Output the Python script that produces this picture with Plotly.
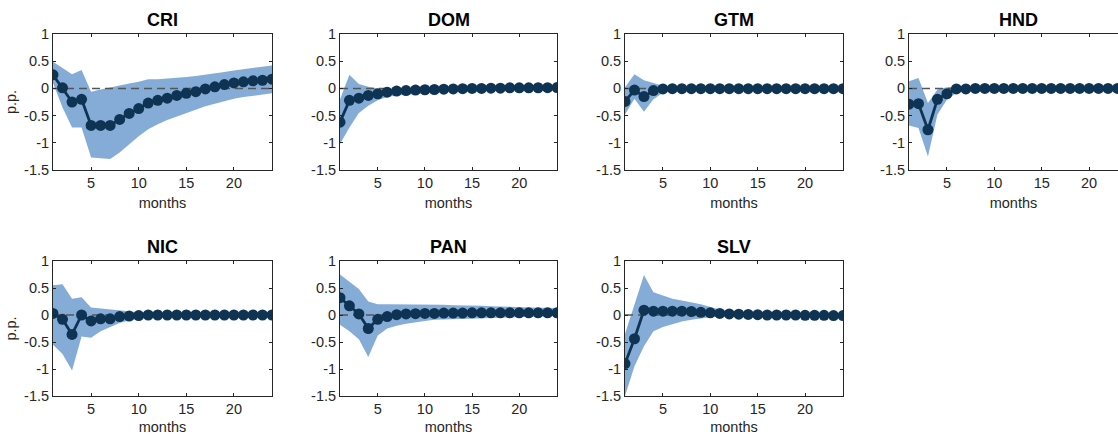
import plotly.graph_objects as go

months = list(range(1, 25))

countries = ["CRI", "DOM", "GTM", "HND", "NIC", "PAN", "SLV"]

cri_mean = [0.25, 0.01, -0.25, -0.2, -0.68, -0.68, -0.68, -0.57, -0.46, -0.37, -0.27, -0.22,
            -0.18, -0.13, -0.09, -0.06, -0.01, 0.03, 0.07, 0.10, 0.12, 0.14, 0.15, 0.17]
cri_up = [0.49, 0.37, 0.26, 0.34, -0.06, -0.02, 0.02, 0.05, 0.09, 0.12, 0.17, 0.17,
          0.18, 0.20, 0.21, 0.23, 0.25, 0.28, 0.30, 0.33, 0.35, 0.38, 0.40, 0.42]
cri_lo = [0.10, -0.35, -0.72, -0.72, -1.27, -1.28, -1.30, -1.18, -1.03, -0.88, -0.75, -0.66,
          -0.58, -0.51, -0.45, -0.39, -0.33, -0.28, -0.23, -0.19, -0.16, -0.13, -0.11, -0.09]

dom_mean = [-0.62, -0.22, -0.18, -0.13, -0.10, -0.07, -0.05, -0.04, -0.03, -0.025, -0.02, -0.015,
            -0.01, -0.005, 0.0, 0.0, 0.005, 0.005, 0.01, 0.01, 0.01, 0.012, 0.013, 0.015]
dom_up = [-0.20, 0.25, 0.08, 0.03, 0.0, -0.01, -0.01, -0.005, 0.0, 0.0, 0.005, 0.01,
          0.01, 0.015, 0.02, 0.02, 0.025, 0.025, 0.03, 0.03, 0.03, 0.035, 0.035, 0.04]
dom_lo = [-1.02, -0.72, -0.45, -0.32, -0.22, -0.16, -0.13, -0.11, -0.10, -0.09, -0.08, -0.07,
          -0.06, -0.05, -0.045, -0.04, -0.035, -0.03, -0.025, -0.02, -0.018, -0.015, -0.012, -0.01]

gtm_mean = [-0.24, -0.03, -0.15, -0.04, -0.01, -0.005, -0.005, -0.005, -0.005, -0.005, -0.005, -0.005,
            -0.005, -0.005, -0.005, -0.005, -0.005, -0.005, -0.005, -0.005, -0.005, -0.005, -0.005, -0.005]
gtm_up = [0.02, 0.26, 0.15, 0.10, 0.05, 0.02, 0.01, 0.005, 0.005, 0.005, 0.005, 0.005,
          0.005, 0.005, 0.005, 0.005, 0.005, 0.005, 0.005, 0.005, 0.005, 0.005, 0.005, 0.005]
gtm_lo = [-0.48, -0.19, -0.43, -0.20, -0.08, -0.04, -0.02, -0.015, -0.012, -0.01, -0.01, -0.01,
          -0.01, -0.01, -0.01, -0.01, -0.01, -0.01, -0.01, -0.01, -0.01, -0.01, -0.01, -0.01]

hnd_mean = [-0.29, -0.28, -0.76, -0.20, -0.10, -0.01, -0.01, 0.0, 0.0, 0.0, 0.0, 0.0,
            0.0, 0.0, 0.0, 0.0, 0.0, 0.0, 0.0, 0.0, 0.0, 0.0, 0.0, 0.0]
hnd_up = [0.13, 0.19, -0.27, -0.02, 0.02, 0.03, 0.02, 0.015, 0.01, 0.01, 0.01, 0.01,
          0.01, 0.01, 0.01, 0.01, 0.01, 0.01, 0.01, 0.01, 0.01, 0.01, 0.01, 0.01]
hnd_lo = [-0.68, -0.73, -1.25, -0.48, -0.21, -0.08, -0.05, -0.03, -0.02, -0.02, -0.02, -0.02,
          -0.02, -0.02, -0.02, -0.02, -0.02, -0.02, -0.02, -0.02, -0.02, -0.02, -0.02, -0.02]

nic_mean = [0.03, -0.08, -0.36, 0.0, -0.11, -0.07, -0.07, -0.03, -0.02, -0.01, 0.0, 0.0,
            0.0, 0.0, 0.0, 0.0, 0.0, 0.0, 0.0, 0.0, 0.0, 0.0, 0.0, 0.0]
nic_up = [0.55, 0.57, 0.30, 0.33, 0.14, 0.12, 0.10, 0.08, 0.06, 0.05, 0.04, 0.03,
          0.025, 0.02, 0.02, 0.015, 0.015, 0.01, 0.01, 0.01, 0.01, 0.01, 0.01, 0.01]
nic_lo = [-0.55, -0.72, -1.03, -0.40, -0.42, -0.30, -0.22, -0.15, -0.10, -0.07, -0.05, -0.04,
          -0.03, -0.025, -0.02, -0.02, -0.015, -0.015, -0.01, -0.01, -0.01, -0.01, -0.01, -0.01]

pan_mean = [0.32, 0.17, 0.02, -0.25, -0.08, -0.03, 0.005, 0.02, 0.025, 0.03, 0.03, 0.035,
            0.035, 0.035, 0.04, 0.04, 0.04, 0.04, 0.04, 0.04, 0.04, 0.04, 0.04, 0.04]
pan_up = [0.75, 0.62, 0.48, 0.25, 0.20, 0.20, 0.20, 0.20, 0.20, 0.20, 0.19, 0.19,
          0.18, 0.18, 0.17, 0.17, 0.16, 0.16, 0.15, 0.15, 0.14, 0.14, 0.13, 0.13]
pan_lo = [-0.18, -0.30, -0.45, -0.78, -0.38, -0.25, -0.20, -0.16, -0.13, -0.11, -0.09, -0.08,
          -0.07, -0.065, -0.06, -0.055, -0.05, -0.045, -0.04, -0.035, -0.03, -0.03, -0.025, -0.02]

slv_mean = [-0.90, -0.44, 0.09, 0.07, 0.07, 0.07, 0.07, 0.065, 0.05, 0.04, 0.03, 0.02,
            0.015, 0.01, 0.005, 0.0, 0.0, 0.0, 0.0, -0.005, -0.005, -0.005, -0.01, -0.01]
slv_up = [-0.35, 0.20, 0.74, 0.42, 0.36, 0.30, 0.27, 0.24, 0.20, 0.15, 0.10, 0.07,
          0.05, 0.04, 0.03, 0.03, 0.02, 0.02, 0.02, 0.02, 0.02, 0.02, 0.02, 0.02]
slv_lo = [-1.50, -0.95, -0.58, -0.30, -0.22, -0.17, -0.12, -0.09, -0.06, -0.04, -0.03, -0.02,
          -0.02, -0.02, -0.02, -0.02, -0.02, -0.02, -0.02, -0.02, -0.02, -0.02, -0.02, -0.02]

means = [cri_mean, dom_mean, gtm_mean, hnd_mean, nic_mean, pan_mean, slv_mean]
uppers = [cri_up, dom_up, gtm_up, hnd_up, nic_up, pan_up, slv_up]
lowers = [cri_lo, dom_lo, gtm_lo, hnd_lo, nic_lo, pan_lo, slv_lo]

y_ticks = [-1.5, -1, -0.5, 0, 0.5, 1]
y_ticktext = ["-1.5", "-1", "-0.5", "0", "0.5", "1"]
x_ticks = [5, 10, 15, 20]

W, H = 1118, 435
# pixel boxes of plot areas (left, right, top, bottom)
col_px = [(53, 272), (340, 557), (625, 843), (909, 1118)]
row_px = [(34, 170), (261, 396)]

BAND = "#84acd7"
LINE = "#0f3453"
AX = "#262626"
FONT = "Liberation Sans, Arial, sans-serif"
FS = 14.5

fig = go.Figure()
layout = dict(
    width=W, height=H, margin=dict(l=0, r=0, t=0, b=0, autoexpand=False),
    paper_bgcolor="white", plot_bgcolor="white", showlegend=False,
    font=dict(family=FONT, size=FS, color=AX),
)
annotations = []

for i, name in enumerate(countries):
    r, c = divmod(i, 4)
    k = i + 1
    xa = "x" if k == 1 else f"x{k}"
    ya = "y" if k == 1 else f"y{k}"
    xl, xr = col_px[c]
    yt, yb = row_px[r]
    xend = 24
    if c == 3:
        # panel is cut by the right edge of the image
        xend = 1 + 23 * (xr - xl) / (1127 - xl)
    fig.add_trace(go.Scatter(x=months + months[::-1], y=uppers[i] + lowers[i][::-1],
                             fill="toself", fillcolor=BAND, line=dict(width=0),
                             mode="lines", hoverinfo="skip", xaxis=xa, yaxis=ya))
    fig.add_trace(go.Scatter(x=[1, 24], y=[0, 0], mode="lines",
                             line=dict(color="#555555", width=1.5, dash="8px,5px"),
                             xaxis=xa, yaxis=ya))
    fig.add_trace(go.Scatter(x=months, y=means[i], mode="lines+markers",
                             line=dict(color=LINE, width=2.8),
                             marker=dict(color=LINE, size=11),
                             xaxis=xa, yaxis=ya))
    xkey = "xaxis" if k == 1 else f"xaxis{k}"
    ykey = "yaxis" if k == 1 else f"yaxis{k}"
    layout[xkey] = dict(domain=[xl / W, xr / W], anchor=ya, range=[1, xend],
                        automargin=False,
                        tickvals=x_ticks, ticks="inside", ticklen=3, tickcolor=AX,
                        showline=True, linecolor=AX, linewidth=1, mirror="allticks",
                        showgrid=False, zeroline=False,
                        tickfont=dict(size=FS, color=AX),
                        title=dict(text="months", font=dict(size=FS, color=AX), standoff=7))
    layout[ykey] = dict(domain=[1 - yb / H, 1 - yt / H], anchor=xa, range=[-1.5, 1],
                        automargin=False,
                        tickvals=y_ticks, ticktext=y_ticktext, ticks="inside", ticklen=3,
                        tickcolor=AX, showline=True, linecolor=AX, linewidth=1,
                        mirror=("allticks" if c != 3 else False),
                        showgrid=False, zeroline=False,
                        tickfont=dict(size=FS, color=AX))
    if c == 0:
        layout[ykey]["title"] = dict(text="p.p.", font=dict(size=FS, color=AX), standoff=4)
    annotations.append(dict(text=f"<b>{name}</b>", x=(xl + min(xr, 1127) + (9 if c == 3 else 0)) / 2 / W,
                            y=1 - (yt - 14) / H, xref="paper", yref="paper",
                            showarrow=False, font=dict(size=18, color="black", family=FONT),
                            xanchor="center", yanchor="middle"))

layout["annotations"] = annotations
fig.update_layout(**layout)
fig.write_html("out.html")
